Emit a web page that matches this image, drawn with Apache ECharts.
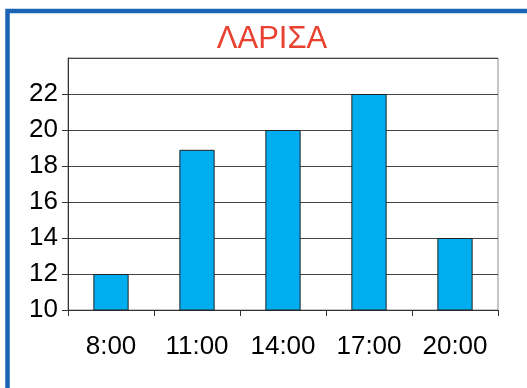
<!DOCTYPE html>
<html>
<head>
<meta charset="utf-8">
<script src="https://cdn.jsdelivr.net/npm/echarts@6/dist/echarts.min.js"></script>
<style>
html,body{margin:0;padding:0;background:#fff;}
#c{width:527px;height:388px;}
</style>
</head>
<body>
<div id="c"></div>
<script>
const titleText = "ΛΑΡΙΣΑ";
const categories = ["8:00", "11:00", "14:00", "17:00", "20:00"];
const values = [12, 18.9, 20, 22, 14];
const yMin = 10, yMax = 24, yInterval = 2;

const chart = echarts.init(document.getElementById('c'), null, {renderer: 'canvas'});
const font = "'Liberation Sans', Arial, sans-serif";
chart.setOption({
  animation: false,
  backgroundColor: '#fff',
  title: {
    text: titleText,
    left: 267,
    top: 19,
    textAlign: 'center',
    textStyle: {color: '#E8412F', fontSize: 31, fontWeight: 'normal', fontFamily: font}
  },
  graphic: [{
    type: 'rect',
    shape: {x: 7.5, y: 11, width: 700, height: 600},
    style: {fill: 'none', stroke: '#1B63B5', lineWidth: 4.5},
    silent: true
  }],
  grid: {
    left: 68, right: 29, top: 58, bottom: 78,
    show: true, borderColor: '#8c8c8c', borderWidth: 1
  },
  xAxis: {
    type: 'category',
    data: categories,
    axisLine: {lineStyle: {color: '#333', width: 1}},
    axisTick: {show: true, alignWithLabel: false, length: 6, lineStyle: {color: '#333'}},
    axisLabel: {color: '#000', fontSize: 26, fontFamily: font, margin: 24},
    splitLine: {show: false}
  },
  yAxis: {
    type: 'value',
    min: yMin, max: yMax, interval: yInterval,
    axisLine: {show: true, lineStyle: {color: '#333', width: 1}},
    axisTick: {show: true, length: 6, lineStyle: {color: '#333'}},
    axisLabel: {color: '#000', fontSize: 26, fontFamily: font, margin: 10, showMaxLabel: false,
      formatter: v => (v === yMax ? '' : String(v))},
    splitLine: {show: true, lineStyle: {color: '#444', width: 1}}
  },
  series: [{
    type: 'bar',
    data: values,
    barWidth: '41%',
    itemStyle: {color: '#00AEEF', borderColor: '#222', borderWidth: 1}
  }]
});
</script>
</body>
</html>
